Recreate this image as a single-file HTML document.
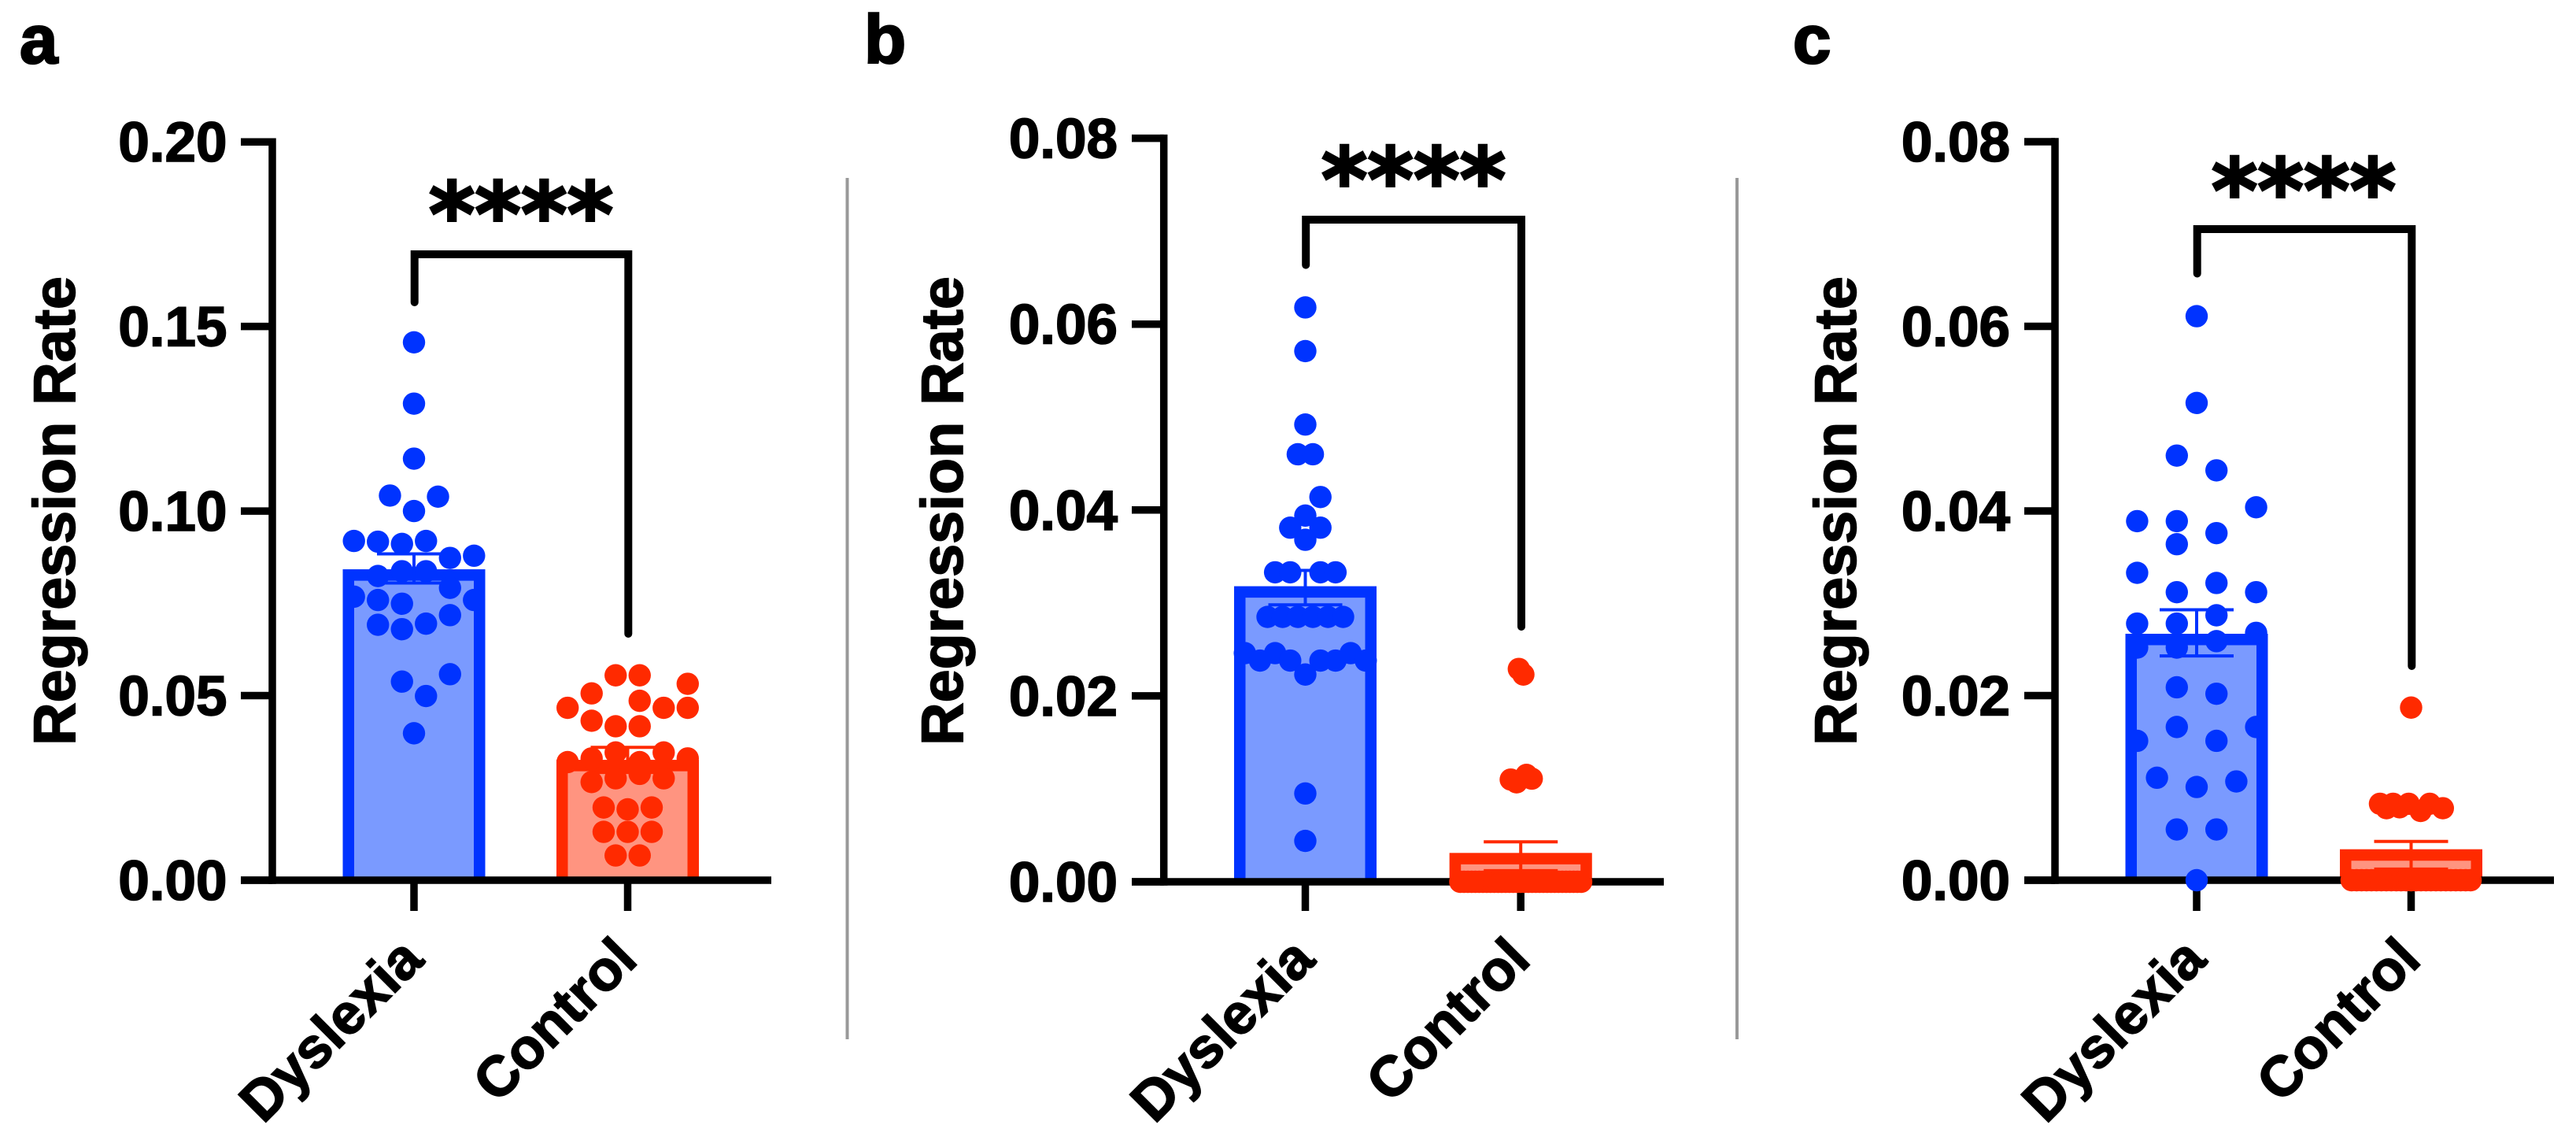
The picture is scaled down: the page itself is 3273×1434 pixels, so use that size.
<!DOCTYPE html>
<html lang="en">
<head>
<meta charset="utf-8">
<title>Regression Rate: Dyslexia vs Control</title>
<style>
html,body{margin:0;padding:0;background:#fff;}
#figure{display:block;width:3273px;height:1434px;background:#fff;}
text{font-family:"Liberation Sans",Arial,sans-serif;font-weight:700;fill:#000;stroke:#000;stroke-width:1.6px;}
</style>
</head>
<body>
<svg id="figure" xmlns="http://www.w3.org/2000/svg" width="3273" height="1434" viewBox="0 0 3273 1434"></svg>
<script>
// ---- chart data ----
const categories = ['Dyslexia', 'Control'];

const ticksA = [0, 0.05, 0.10, 0.15, 0.20];
const tickLabelsA = ['0.00', '0.05', '0.10', '0.15', '0.20'];
const ticksBC = [0, 0.02, 0.04, 0.06, 0.08];
const tickLabelsBC = ['0.00', '0.02', '0.04', '0.06', '0.08'];

// Panel a
const aMeans = [0.0842, 0.0326];
const aErrHigh = [0.0884, 0.0360];
const aErrLow = [0.0805, 0.0292];
const aDyslexiaValues = [0.1457,0.1291,0.1142,0.1042,0.1039,0.1000,0.0919,0.0917,0.0911,0.0919,0.0873,0.0879,0.0824,0.0837,0.0837,0.0792,0.0768,0.0759,0.0749,0.0759,0.0718,0.0692,0.0680,0.0695,0.0538,0.0558,0.0499,0.0398];
const aDyslexiaSlots = [0,0,0,-2,2,0,-5,-3,-1,1,3,5,-3,-1,1,3,-5,-3,-1,5,3,-3,-1,1,-1,3,1,0];
const aControlValues = [0.0555,0.0555,0.0532,0.0506,0.0486,0.0467,0.0467,0.0467,0.0432,0.0417,0.0417,0.0320,0.0330,0.0346,0.0320,0.0346,0.0330,0.0266,0.0276,0.0288,0.0276,0.0197,0.0192,0.0197,0.0131,0.0131,0.0131,0.0067,0.0067];
const aControlSlots = [-1,1,5,-3,1,-5,3,5,-3,-1,1,-5,-3,-1,1,3,5,-3,-1,1,3,-2,0,2,-2,0,2,-1,1];

// Panel b
const bMeans = [0.0318, 0.0031];
const bErrHigh = [0.0335, 0.0043];
const bErrLow = [0.0298, 0.0012];
const bDyslexiaValues = [0.0618,0.0571,0.0492,0.0460,0.0460,0.0414,0.0394,0.0381,0.0381,0.0368,0.0333,0.0333,0.0333,0.0333,0.0285,0.0285,0.0285,0.0285,0.0285,0.0285,0.0246,0.0238,0.0246,0.0238,0.0223,0.0238,0.0238,0.0246,0.0238,0.0095,0.0044];
const bDyslexiaSlots = [0,0,0,-1,1,2,0,-2,2,0,-4,-2,2,4,-5,-3,-1,1,3,5,-8,-6,-4,-2,0,2,4,6,8,0,0];
const bControlValues = [0.0229,0.0223,0.0110,0.0107,0.0115,0.0111,0,0,0,0,0,0,0,0,0,0,0,0,0,0,0,0,0,0,0,0,0,0,0,0,0,0,0,0,0,0,0,0,0];
const bControlSlots = [-0.25,0.35,-1.32,-0.55,0.76,1.46,-8,-7.5,-7,-6.5,-6,-5.5,-5,-4.5,-4,-3.5,-3,-2.5,-2,-1.5,-1,-0.5,0,0.5,1,1.5,2,2.5,3,3.5,4,4.5,5,5.5,6,6.5,7,7.5,8];

// Panel c
const cMeans = [0.0267, 0.00335];
const cErrHigh = [0.0293, 0.0042];
const cErrLow = [0.0243, 0.0012];
const cDyslexiaValues = [0.0611,0.0517,0.0460,0.0444,0.0404,0.0389,0.0389,0.0376,0.0364,0.0333,0.0322,0.0312,0.0312,0.0287,0.0278,0.0278,0.0268,0.0259,0.0252,0.0252,0.0209,0.0202,0.0166,0.0166,0.0151,0.0151,0.0111,0.0107,0.0101,0.0055,0.0055,0];
const cDyslexiaSlots = [0,0,-1,1,3,-3,-1,1,-1,-3,1,-1,3,1,-3,-1,3,1,-3,-1,-1,1,-1,3,-3,1,-2,2,0,-1,1,0];
const cControlValues = [0.0187,0.00828,0.00828,0.00828,0.00828,0.0078,0.0078,0.0079,0.0075,0,0,0,0,0,0,0,0,0,0,0,0,0,0,0,0,0,0,0,0,0,0,0,0,0];
const cControlSlots = [0,-1.57,-0.91,-0.12,0.94,1.6,-1.24,-0.58,0.48,-3,-2.75,-2.5,-2.25,-2,-1.75,-1.5,-1.25,-1,-0.75,-0.5,-0.25,0,0.25,0.5,0.75,1,1.25,1.5,1.75,2,2.25,2.5,2.75,3];

// ---- layout (geometry only) ----
const BLUE = '#0033ff', BLUE_FILL = '#7a9aff', RED = '#ff2a00', RED_FILL = '#ff9480';
const DOT_R = 14.2, AXIS_W = 9.5, BAR_W = 181, STROKE_W = 14.5, CAP_HALF = 47;
const panels = [
  { key:'a', letter:'a', letterX:25, axisX:346, axisEnd:980, y0:1118, yTop:180.2, yMax:0.20, tickL:306, labelR:288.5,
    titleX:95, centers:[526,797.5], slot:15.26, bracketTop:323, bracketEnds:[384,805], starX:662, starY:256,
    ticks:ticksA, labels:tickLabelsA, means:aMeans, hi:aErrHigh, lo:aErrLow,
    values:[aDyslexiaValues,aControlValues], slots:[aDyslexiaSlots,aControlSlots] },
  { key:'b', letter:'b', letterX:1098, axisX:1478.7, axisEnd:2114, y0:1120, yTop:175.6, yMax:0.08, tickL:1438, labelR:1420,
    titleX:1223, centers:[1658.5,1932.2], slot:9.6, bracketTop:279, bracketEnds:[336.6,796], starX:1796, starY:212,
    ticks:ticksBC, labels:tickLabelsBC, means:bMeans, hi:bErrHigh, lo:bErrLow,
    values:[bDyslexiaValues,bControlValues], slots:[bDyslexiaSlots,bControlSlots] },
  { key:'c', letter:'c', letterX:2278, axisX:2611, axisEnd:3245, y0:1118, yTop:180, yMax:0.08, tickL:2572, labelR:2554,
    titleX:2358, centers:[2791,3063.5], slot:25.2, bracketTop:291, bracketEnds:[347.5,846], starX:2927, starY:226,
    ticks:ticksBC, labels:tickLabelsBC, means:cMeans, hi:cErrHigh, lo:cErrLow,
    values:[cDyslexiaValues,cControlValues], slots:[cDyslexiaSlots,cControlSlots] }
];
const separators = [1076.5, 2207];

const svg = document.getElementById('figure');
const NS = 'http://www.w3.org/2000/svg';

function shape(parent, tag, attrs, text) {
  const node = document.createElementNS(NS, tag);
  for (const k in attrs) node.setAttribute(k, attrs[k]);
  if (text !== undefined) node.textContent = text;
  parent.appendChild(node);
  return node;
}
function yScale(p, v) { return p.y0 - (v / p.yMax) * (p.y0 - p.yTop); }
function xScale(p, groupIndex, slot) { return p.centers[groupIndex] + slot * p.slot; }

separators.forEach(function (x, i) {
  const el = shape(svg, 'line', { x1:x, x2:x, y1:226, y2:1320, stroke:'#999', 'stroke-width':4 });
  
  
});

panels.forEach(function (p) {
  const g = shape(svg, 'g', {});
  
  

  const letter = shape(g, 'text', { x:p.letterX, y:80, 'font-size':87, style:'stroke-width:2.5px' }, p.letter);
  
  

  // bars
  categories.forEach(function (cat, i) {
    const cx = p.centers[i];
    const top = yScale(p, p.means[i]);
    const left = cx - BAR_W / 2, right = cx + BAR_W / 2;
    const color = i === 0 ? BLUE : RED, fill = i === 0 ? BLUE_FILL : RED_FILL;
    const slug = cat.toLowerCase();

    const barFill = shape(g, 'rect', { x:left, y:top, width:BAR_W, height:p.y0 - top, fill:fill });
    
    

    const inset = STROKE_W / 2;
    const barEdge = shape(g, 'path', {
      d:'M' + (left + inset) + ' ' + p.y0 + 'V' + (top + inset) + 'H' + (right - inset) + 'V' + p.y0,
      fill:'none', stroke:color, 'stroke-width':STROKE_W
    });
    
    

    const hi = yScale(p, p.hi[i]), lo = yScale(p, p.lo[i]);
    const err = shape(g, 'path', {
      d:'M' + cx + ' ' + hi + 'V' + lo + 'M' + (cx - CAP_HALF) + ' ' + hi + 'H' + (cx + CAP_HALF) +
        'M' + (cx - CAP_HALF) + ' ' + lo + 'H' + (cx + CAP_HALF),
      fill:'none', stroke:color, 'stroke-width':4
    });
    
    
  });

  // axes
  const yAxis = shape(g, 'line', { x1:p.axisX, x2:p.axisX, y1:yScale(p, p.yMax) - AXIS_W / 2, y2:p.y0 + AXIS_W / 2, stroke:'#000', 'stroke-width':AXIS_W });
  
  

  const xAxis = shape(g, 'line', { x1:p.tickL, x2:p.axisEnd, y1:p.y0, y2:p.y0, stroke:'#000', 'stroke-width':AXIS_W });
  
  

  p.ticks.forEach(function (t, i) {
    const y = yScale(p, t);
    const tick = shape(g, 'line', { x1:p.tickL, x2:p.axisX, y1:y, y2:y, stroke:'#000', 'stroke-width':AXIS_W });
    
    

    const lab = shape(g, 'text', { x:p.labelR, y:y + 25, 'font-size':71, 'text-anchor':'end' }, p.labels[i]);
    
    
  });

  const title = shape(g, 'text', {
    x:p.titleX, y:649, 'font-size':75.5, 'text-anchor':'middle',
    transform:'rotate(-90 ' + p.titleX + ' 649)'
  }, 'Regression Rate');
  
  

  categories.forEach(function (cat, i) {
    const cx = p.centers[i];
    const slug = cat.toLowerCase();
    const tick = shape(g, 'line', { x1:cx, x2:cx, y1:p.y0, y2:1157, stroke:'#000', 'stroke-width':AXIS_W });
    
    

    const lx = cx + 15, ly = 1222;
    const lab = shape(g, 'text', {
      x:lx, y:ly, 'font-size':72, 'text-anchor':'end',
      transform:'rotate(-45 ' + lx + ' ' + ly + ')'
    }, cat);
    
    
  });

  // data points
  categories.forEach(function (cat, i) {
    const slug = cat.toLowerCase();
    p.values[i].forEach(function (v, j) {
      const dot = shape(g, 'circle', {
        cx:xScale(p, i, p.slots[i][j]), cy:yScale(p, v), r:DOT_R, fill:i === 0 ? BLUE : RED
      });
      
      
    });
  });

  // significance bracket
  const lx = p.centers[0] + 0.7, rx = p.centers[1] + 0.8;
  const bracket = shape(g, 'path', {
    d:'M' + lx + ' ' + p.bracketEnds[0] + 'V' + p.bracketTop + 'H' + rx + 'V' + p.bracketEnds[1],
    fill:'none', stroke:'#000', 'stroke-width':10, 'stroke-linecap':'round', 'stroke-linejoin':'miter'
  });
  
  

  const stars = shape(g, 'text', {
    x:p.starX, y:p.starY + 56, 'font-size':112, 'text-anchor':'middle',
    style:'font-family:"DejaVu Sans",sans-serif;font-weight:700;stroke-width:3px'
  }, '****');
  
  
});
</script>
</body>
</html>
